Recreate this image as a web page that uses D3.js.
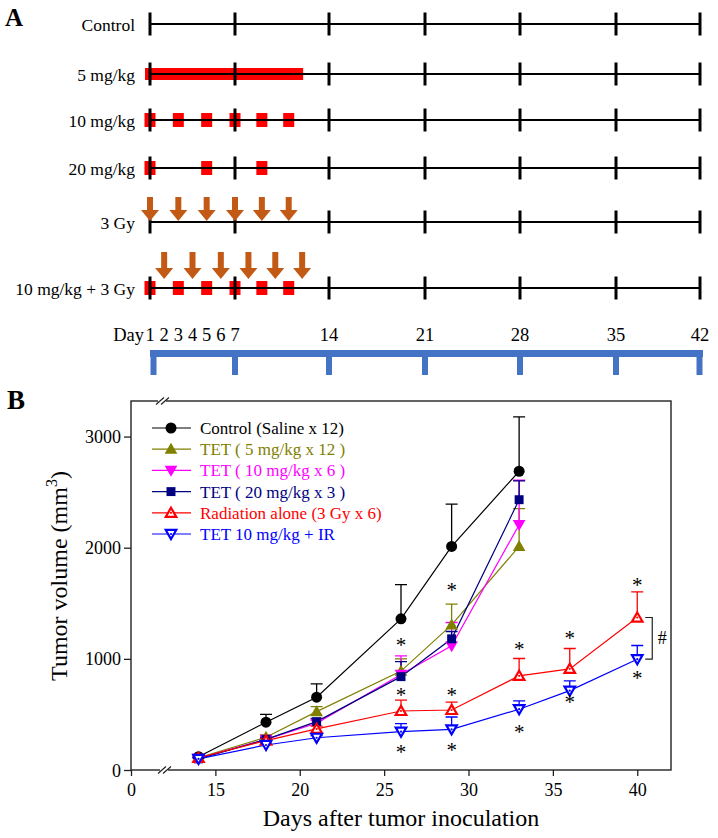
<!DOCTYPE html>
<html><head><meta charset="utf-8">
<script src="https://cdn.jsdelivr.net/npm/d3@7/dist/d3.min.js"></script>
<style>
html,body{margin:0;padding:0;background:#fff;}
svg{display:block;font-family:"Liberation Serif","Times New Roman",serif;}
</style></head>
<body>
<svg id="c" width="718" height="838"></svg>
<script>
// ---------- Panel A data ----------
const rowLabels = ["Control","5 mg/kg","10 mg/kg","20 mg/kg","3 Gy","10 mg/kg + 3 Gy"];
const timelineTicks = [1,7,14,21,28,35,42];
const dayLabels = [1,2,3,4,5,6,7,14,21,28,35,42];
const dose5Span = [1,12];                 // daily 5 mg/kg, days 1-12
const dose10Days = [1,3,5,7,9,11];
const dose20Days = [1,5,9];
const ir3GyDays = [1,3,5,7,9,11];
const comboDrugDays = [1,3,5,7,9,11];
const comboIrDays = [2,4,6,8,10,12];

// ---------- Panel B data ----------
const days = [14,18,21,26,29,33,36,40];
const seriesNames = ["Control (Saline x 12)","TET ( 5 mg/kg x 12 )","TET ( 10 mg/kg x 6 )","TET ( 20 mg/kg x 3 )","Radiation alone (3 Gy x 6)","TET 10 mg/kg + IR"];
const controlVals = [120,430,655,1360,2012,2688];
const controlErr  = [15,70,120,307,380,490];
const tet5Vals = [110,295,525,890,1306,2012];
const tet5Err  = [10,20,45,110,187,340];
const tet10Vals = [105,275,420,860,1117,2207];
const tet10Err  = [10,20,30,167,210,400];
const tet20Vals = [100,275,435,840,1180,2432];
const tet20Err  = [10,20,30,135,66,170];
const radVals = [110,265,370,531,540,847,910,1372];
const radErr  = [10,20,25,97,70,156,183,231];
const comboVals = [100,225,290,345,366,547,714,997];
const comboErr  = [10,15,20,72,111,75,88,123];
const xTicks = [15,20,25,30,35,40];
const yTicks = [0,1000,2000,3000];
// asterisks: [day, value]
const asterisks = [[26,1143],[26,693],[26,180],[29,1638],[29,693],[29,198],[33,1107],[33,360],[36,1206],[36,630],[40,1683],[40,846]];

const svg = d3.select("#c");
svg.append("rect").attr("width",718).attr("height",838).attr("fill","#fff");

// ================= PANEL A =================
const A = svg.append("g");
const xa = d3.scaleLinear().domain(timelineTicks).range([150,235,329,425,520,616,700]);
const ya = d3.scaleOrdinal().domain(rowLabels).range([24,74,120,168,222,288]);
const RED = "#ff0000", BROWN = "#c25a16", BLUEB = "#4472c4";

A.append("text").attr("x",5).attr("y",26).attr("font-size",25).attr("font-weight","bold").text("A");

// red dosing marks
A.append("rect").attr("x",xa(dose5Span[0])-5).attr("y",ya("5 mg/kg")-6)
  .attr("width",xa(dose5Span[1])+1-(xa(dose5Span[0])-5)).attr("height",12).attr("fill",RED);
function squares(list,row){
  A.selectAll(null).data(list).enter().append("rect")
   .attr("x",d=>xa(d)-5.5).attr("y",ya(row)-7).attr("width",11).attr("height",14).attr("fill",RED);
}
squares(dose10Days,"10 mg/kg");
squares(dose20Days,"20 mg/kg");
squares(comboDrugDays,"10 mg/kg + 3 Gy");

// timeline lines
rowLabels.forEach(r=>{
  const y = ya(r);
  A.append("line").attr("x1",xa(1)).attr("x2",xa(42)).attr("y1",y).attr("y2",y)
   .attr("stroke","#000").attr("stroke-width",2);
  A.selectAll(null).data(timelineTicks).enter().append("line")
   .attr("x1",d=>xa(d)).attr("x2",d=>xa(d)).attr("y1",y-11.5).attr("y2",y+11.5)
   .attr("stroke","#000").attr("stroke-width",3);
  A.append("text").attr("x",135).attr("y",y+6.5).attr("text-anchor","end")
   .attr("font-size",17.5).text(r);
});

// arrows
function arrows(list,row,top,tipOff){
  const ty = ya(row)-tipOff, y0 = ya(row)-top;
  A.selectAll(null).data(list).enter().append("path")
   .attr("d",d=>{const c=xa(d);return `M${c-3},${y0}H${c+3}V${ty-11}H${c+9}L${c},${ty}L${c-9},${ty-11}H${c-3}Z`;})
   .attr("fill",BROWN);
}
arrows(ir3GyDays,"3 Gy",25,1);
arrows(comboIrDays,"10 mg/kg + 3 Gy",36,9);

// day labels
A.append("text").attr("x",xa(1)-6).attr("y",341).attr("text-anchor","end").attr("font-size",18.5).text("Day");
A.selectAll(null).data(dayLabels).enter().append("text")
 .attr("x",d=>xa(d)).attr("y",341).attr("text-anchor","middle").attr("font-size",18.5).text(d=>d);

// blue bracket
A.append("line").attr("x1",xa(1)).attr("x2",xa(42)+3).attr("y1",353.5).attr("y2",353.5)
 .attr("stroke",BLUEB).attr("stroke-width",7);
A.selectAll(null).data(timelineTicks).enter().append("line")
 .attr("x1",d=>d===1?xa(d)+3.5:d===42?xa(d)-0.5:xa(d))
 .attr("x2",d=>d===1?xa(d)+3.5:d===42?xa(d)-0.5:xa(d))
 .attr("y1",353).attr("y2",375).attr("stroke",BLUEB).attr("stroke-width",6);

// ================= PANEL B =================
const B = svg.append("g");
const xb = d3.scaleLinear().domain([10,42]).range([131,671]);
const yb = d3.scaleLinear().domain([0,3320]).range([770,401]);
const AX = "#222";

B.append("text").attr("x",7).attr("y",409).attr("font-size",27).attr("font-weight","bold").text("B");

// frame
B.append("rect").attr("x",xb(10)).attr("y",yb(3320)).attr("width",xb(42)-xb(10)).attr("height",yb(0)-yb(3320))
 .attr("fill","none").attr("stroke",AX).attr("stroke-width",1.4);

// x axis
const xAxis = d3.axisBottom(xb).tickValues([10].concat(xTicks)).tickSize(6).tickFormat(d=>d===10?"0":d);
const gx = B.append("g").attr("transform",`translate(0,${yb(0)})`).call(xAxis);
gx.select(".domain").remove();
gx.selectAll("line").attr("stroke",AX).attr("stroke-width",1.3);
gx.selectAll("text").attr("font-size",18).attr("font-family","Liberation Serif, serif").attr("fill","#000").attr("dy",0).attr("y",26);

// y axis
const yAxis = d3.axisLeft(yb).tickValues(yTicks).tickSize(7).tickFormat(d3.format("d"));
const gy = B.append("g").attr("transform",`translate(${xb(10)},0)`).call(yAxis);
gy.select(".domain").remove();
gy.selectAll("line").attr("stroke",AX).attr("stroke-width",1.3);
gy.selectAll("text").attr("font-size",18).attr("font-family","Liberation Serif, serif").attr("fill","#000").attr("x",-10).attr("dy","0.34em");

// axis breaks
[[yb(0),165],[yb(3320),163]].forEach(([yy,xx])=>{
  B.append("rect").attr("x",xx-5).attr("y",yy-2).attr("width",8).attr("height",4).attr("fill","#fff");
  [-3,2].forEach(o=>{
    B.append("line").attr("x1",xx+o-4).attr("y1",yy+3.5).attr("x2",xx+o+4).attr("y2",yy-3.5)
     .attr("stroke",AX).attr("stroke-width",1.2);
  });
});

// titles
B.append("text").attr("x",(xb(10)+xb(42))/2).attr("y",826).attr("text-anchor","middle").attr("font-size",24)
 .text("Days after tumor inoculation");
const yt = B.append("text").attr("transform","translate(67,576) rotate(-90)").attr("text-anchor","middle").attr("font-size",24);
yt.append("tspan").text("Tumor volume (mm");
yt.append("tspan").attr("font-size",16).attr("dy",-10).text("3");
yt.append("tspan").attr("dy",10).text(")");

// series
const series = [
  {name:seriesNames[0], vals:controlVals, err:controlErr, color:"#000000", sym:d3.symbolCircle, size:95, open:false, rot:0},
  {name:seriesNames[1], vals:tet5Vals, err:tet5Err, color:"#808000", sym:d3.symbolTriangle, size:70, open:false, rot:0},
  {name:seriesNames[2], vals:tet10Vals, err:tet10Err, color:"#ff00ff", sym:d3.symbolTriangle, size:70, open:false, rot:180},
  {name:seriesNames[3], vals:tet20Vals, err:tet20Err, color:"#000080", sym:d3.symbolSquare, size:80, open:false, rot:0},
  {name:seriesNames[4], vals:radVals, err:radErr, color:"#ff0000", sym:d3.symbolTriangle, size:48, open:true, rot:0},
  {name:seriesNames[5], vals:comboVals, err:comboErr, color:"#0000ff", sym:d3.symbolTriangle, size:48, open:true, rot:180}
];
const line = d3.line().x(d=>xb(d.day)).y(d=>yb(d.v));
series.forEach(s=>{
  const pts = s.vals.map((v,i)=>({day:days[i], v, e:s.err[i]}));
  const g = B.append("g");
  g.append("path").attr("d",line(pts)).attr("fill","none").attr("stroke",s.color).attr("stroke-width",1.2);
  g.selectAll(null).data(pts).enter().append("path")
   .attr("d",d=>`M${xb(d.day)},${yb(d.v)}V${yb(d.v+d.e)}M${xb(d.day)-6},${yb(d.v+d.e)}H${xb(d.day)+6}`)
   .attr("stroke",s.color).attr("stroke-width",1.3).attr("fill","none");
  s.pts = pts;
});
function marker(g,s,x,y){
  const p = g.append("path").attr("d",d3.symbol().type(s.sym).size(s.size)())
   .attr("transform",`translate(${x},${y + (s.sym===d3.symbolTriangle ? (s.rot?-1:1):0)}) rotate(${s.rot})`);
  if(s.open){
    p.attr("fill","#fff").attr("stroke",s.color).attr("stroke-width",2.2);
    g.append("circle").attr("cx",x).attr("cy",y).attr("r",1.1).attr("fill",s.color);
  } else p.attr("fill",s.color);
}
series.forEach(s=>{
  const g = B.append("g");
  s.pts.forEach(d=>marker(g,s,xb(d.day),yb(d.v)));
});

// asterisks
B.selectAll(null).data(asterisks).enter().append("text")
 .attr("x",d=>xb(d[0])).attr("y",d=>yb(d[1])+9.5).attr("text-anchor","middle").attr("font-size",21).text("*");

// bracket with #
const bx = xb(40);
const yr = yb(radVals[radVals.length-1]), yc = yb(comboVals[comboVals.length-1]);
B.append("path").attr("d",`M${bx+8},${yr}H${bx+15}V${yc}H${bx+8}`).attr("fill","none").attr("stroke",AX).attr("stroke-width",1.2);
B.append("text").attr("x",bx+25).attr("y",(yr+yc)/2+6).attr("text-anchor","middle").attr("font-size",18).text("#");

// legend
const lg = B.append("g");
series.forEach((s,i)=>{
  const y = 428 + i*21.2;
  lg.append("line").attr("x1",152).attr("x2",191).attr("y1",y).attr("y2",y).attr("stroke",s.color).attr("stroke-width",1.2);
  marker(lg,s,171,y);
  lg.append("text").attr("x",200).attr("y",y+6).attr("font-size",17).attr("fill",s.color).text(s.name);
});
</script>
</body></html>
